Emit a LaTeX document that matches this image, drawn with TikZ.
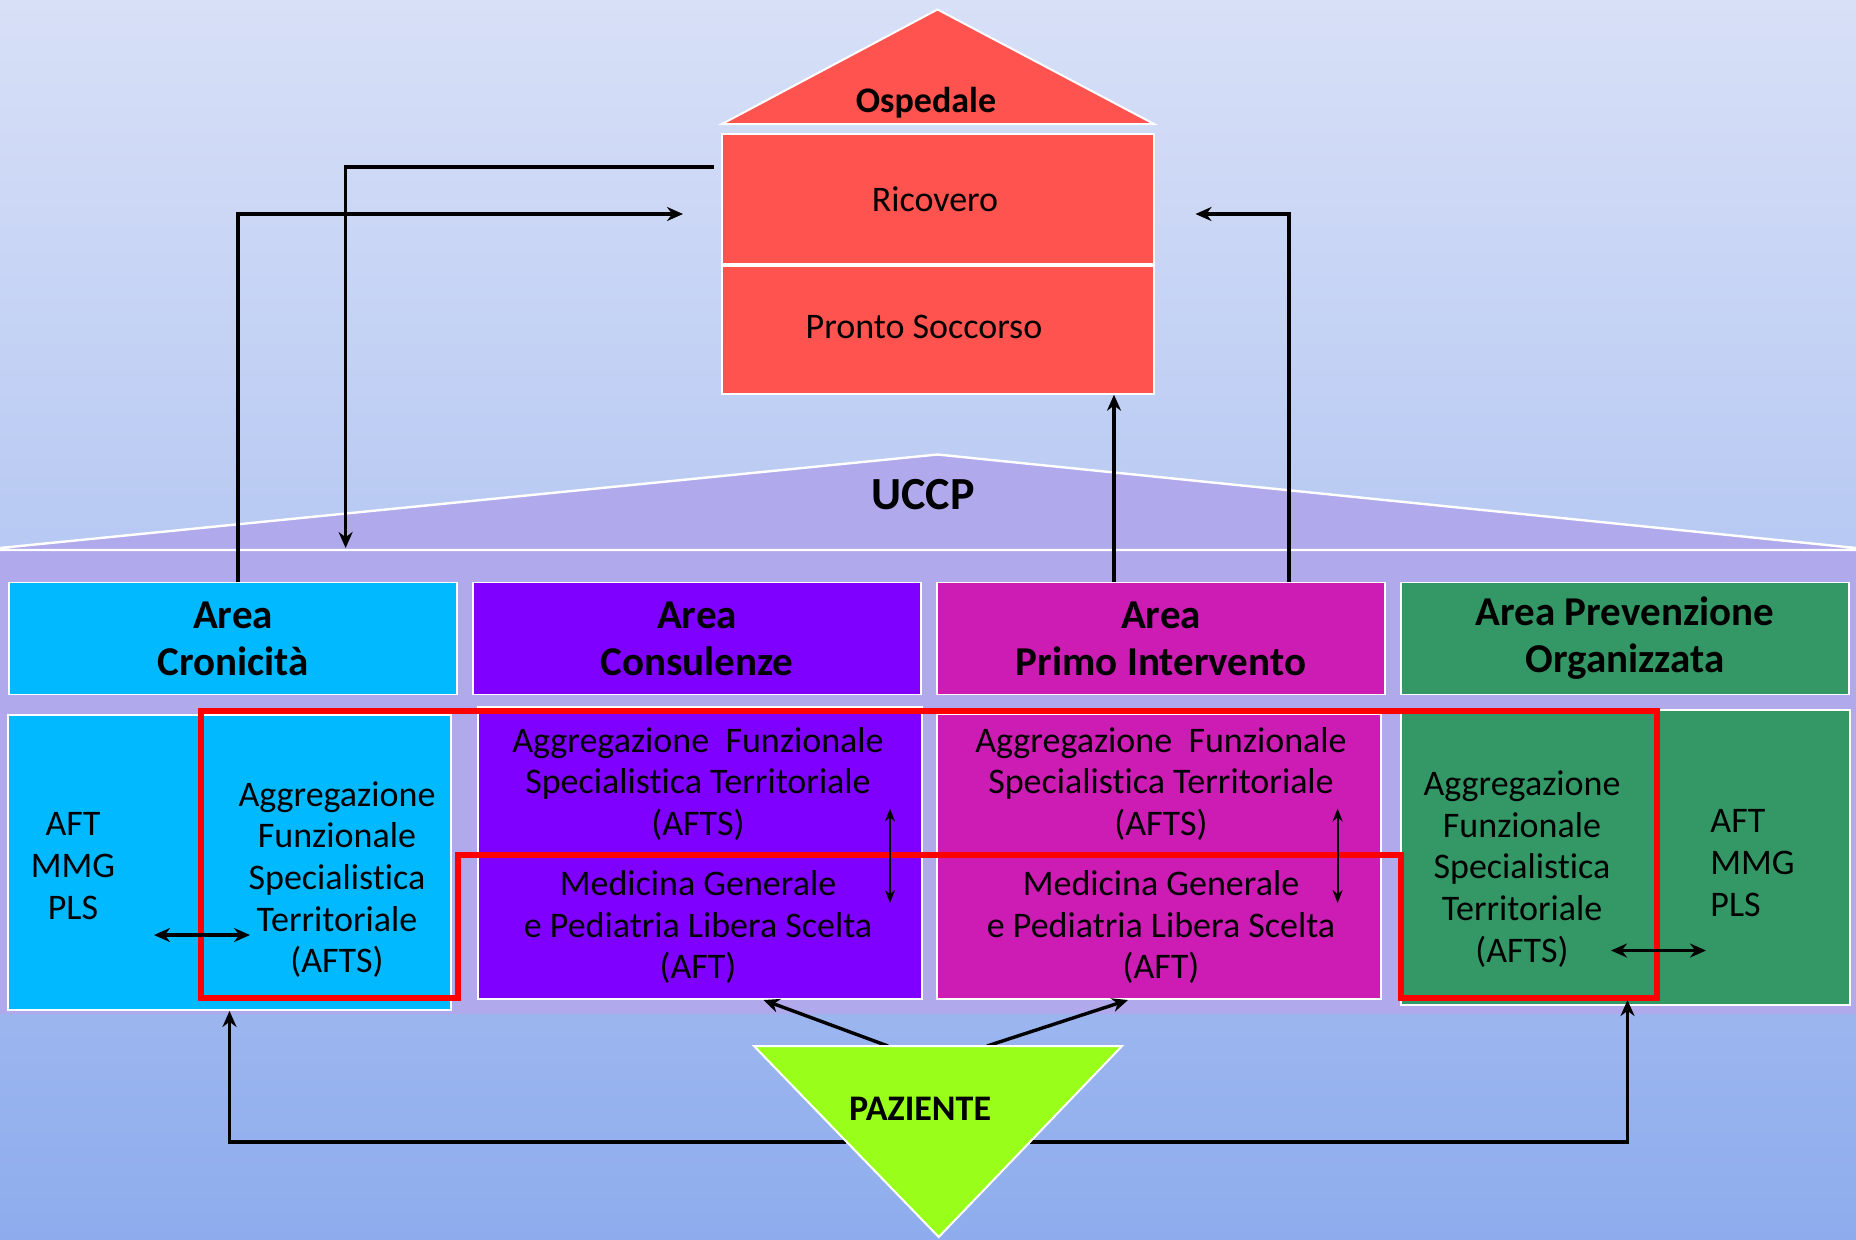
\documentclass[tikz,border=0pt]{standalone}
\usepackage{fontspec}
\setmainfont{Carlito}[Ligatures=NoCommon]
\usetikzlibrary{arrows.meta,positioning}

\definecolor{bgtop}{RGB}{216,224,247}
\definecolor{bgbot}{RGB}{142,172,237}
\definecolor{uccp}{RGB}{176,169,235}
\definecolor{osp}{RGB}{255,83,80}
\definecolor{cron}{RGB}{0,185,255}
\definecolor{cons}{RGB}{128,0,255}
\definecolor{primo}{RGB}{204,28,180}
\definecolor{prev}{RGB}{52,152,102}
\definecolor{paz}{RGB}{153,255,26}

\begin{document}
\begin{tikzpicture}[x=0.5pt, y=-0.5pt, line join=miter, >={Stealth[length=8pt,width=7pt]}]
	\tikzset{
		wbox/.style={draw=white, line width=0.9pt, inner sep=0pt},
		head/.style={wbox, minimum width=224pt, minimum height=56pt, align=center, font=\fontsize{20.5}{23.5}\selectfont\bfseries},
		txt/.style={align=center, inner sep=0pt, font=\fontsize{18}{20.8}\selectfont},
		link/.style={->, line width=1.7pt},
		tlink/.style={line width=1pt, {Stealth[length=6.5pt,width=5pt]}-{Stealth[length=6.5pt,width=5pt]}},
		dlink/.style={<->, line width=1.8pt}
	}
	\useasboundingbox (0,0) rectangle (1856,1239);
	\shade[top color=bgtop, bottom color=bgbot] (0,0) rectangle (1856,1239);
	% UCCP
	\fill[uccp] (0,548) -- (937.5,454.5) -- (1856,548) -- (1856,1014) -- (0,1014) -- cycle;
	\draw[white, line width=1.2pt] (0,548) -- (937.5,454.5) -- (1856,548) (0,550) -- (1856,550);
	\node[font=\fontsize{23}{26}\selectfont\bfseries] (uccpT) at (923,495) {UCCP};
	% Ospedale
	\filldraw[fill=osp, draw=white, line width=1pt] (722,124) -- (937.5,9.5) -- (1154,124) -- cycle;
	\node[font=\fontsize{18}{20}\selectfont\bfseries] (osp) at (926,103) {Ospedale};
	\node[wbox, fill=osp, minimum width=216pt, minimum height=65pt, font=\fontsize{18}{20}\selectfont] (ric) at (938,199) {\hspace*{-3pt}Ricovero};
	\node[wbox, fill=osp, minimum width=216pt, minimum height=64pt, font=\fontsize{18}{20}\selectfont, below=0pt of ric] (ps) {\raisebox{3pt}{Pronto Soccorso}\hspace*{14pt}};
	% aree
	\foreach \nm/\col/\lab [count=\i from 0] in {hCron/cron/{Area\\Cronicità}, hCons/cons/{Area\\Consulenze}, hPrimo/primo/{Area\\Primo Intervento}, hPrev/prev/{Area Prevenzione\\Organizzata}}
		\node[head, fill=\col] (\nm) at (233+\i*464,638.5) {\lab};
	\node[wbox, fill=cron, minimum width=221.5pt, minimum height=147.5pt] (lCron) at (229.5,862.5) {};
	\node[wbox, fill=cons, minimum width=222pt, minimum height=146pt] (lCons) at (700,853) {};
	\node[wbox, fill=primo, minimum width=222pt, minimum height=142.5pt] (lPrimo) at (1159,856.5) {};
	\node[wbox, fill=prev, minimum width=224.5pt, minimum height=147.5pt] (lPrev) at (1625.5,857.5) {};
	\draw[red, line width=2.6pt] (201,711) -- (1657,711) -- (1657,998) -- (1401,998) -- (1401,855) -- (458,855) -- (458,998) -- (201,998) -- cycle;
	\node[txt] (aftCron) at (73,866) {AFT\\MMG\\PLS};
	\node[txt] (aftsCron) at (337,879.5) {Aggregazione\\Funzionale\\Specialistica\\Territoriale\\(AFTS)};
	\node[txt] (aftsCons) at (698,783.6) {Aggregazione\ \ Funzionale\\Specialistica Territoriale\\(AFTS)};
	\node[txt] (mgCons) at (698,927) {Medicina Generale\\e Pediatria Libera Scelta\\(AFT)};
	\node[txt] (aftsPrimo) at (1161,783.6) {Aggregazione\ \ Funzionale\\Specialistica Territoriale\\(AFTS)};
	\node[txt] (mgPrimo) at (1161,927) {Medicina Generale\\e Pediatria Libera Scelta\\(AFT)};
	\node[txt] (aftsPrev) at (1522,869) {Aggregazione\\Funzionale\\Specialistica\\Territoriale\\(AFTS)};
	\node[txt, align=left, anchor=west] (aftPrev) at (1710,863) {AFT\\MMG\\PLS};
	% frecce
	\path (683,214) coordinate (toRic) (714,167) coordinate (fromRic) (345.6,548) coordinate (toUccp)
		(1195.5,214) coordinate (toRicR)
		([xshift=2.5pt]hCron.north) coordinate (a1)
		([xshift=-23.5pt]hPrimo.north) coordinate (a3)
		([xshift=64pt]hPrimo.north) coordinate (a4);
	\draw[link] (a1) |- (toRic);
	\draw[link] (fromRic) -| (toUccp);
	\draw[link] (a3) -- (a3 |- ps.south);
	\draw[link] (a4) |- (toRicR);
	\path (890,808.5) coordinate (c1) (890,903) coordinate (c2)
		(1337.6,808.5) coordinate (c3) (1337.6,903) coordinate (c4)
		(154,935) coordinate (c5) (250,935) coordinate (c6)
		(1611,950.5) coordinate (c7) (1706,950.5) coordinate (c8);
	\foreach \a/\b in {c1/c2,c3/c4} \draw[tlink] (\a) -- (\b);
	\foreach \a/\b in {c5/c6,c7/c8} \draw[dlink] (\a) -- (\b);
	% paziente
	\path (754,1046) coordinate (pA) (1122,1046) coordinate (pB) (938.7,1237) coordinate (pC)
		(888,1046) coordinate (p1) (987,1046) coordinate (p2)
		(846,1142) coordinate (p3) (1030,1142) coordinate (p4)
		(763.5,1000) coordinate (toCons) (1128,1000) coordinate (toPrimo) (1627.5,1000) coordinate (toPrev);
	\draw[link] (p1) -- (toCons);
	\draw[link] (p2) -- (toPrimo);
	\draw[link] (p3) -| (lCron.south);
	\draw[link] (p4) -| (toPrev);
	\filldraw[fill=paz, draw=white, line width=1pt] (pA) -- (pB) -- (pC) -- cycle;
	\node[font=\fontsize{18}{20}\selectfont\bfseries] (paz) at (920,1109) {PAZIENTE};
\end{tikzpicture}
\end{document}
